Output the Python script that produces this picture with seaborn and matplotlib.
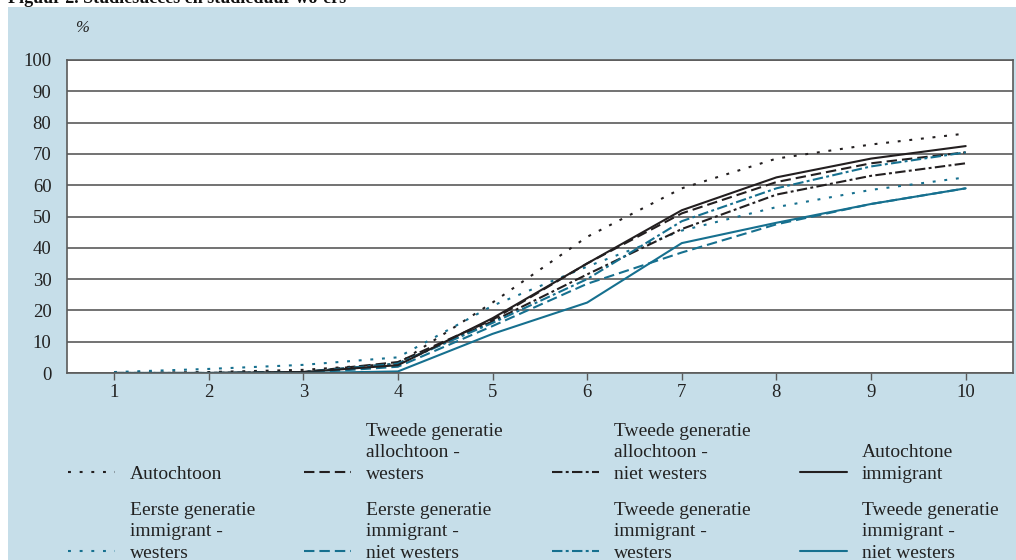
import matplotlib
matplotlib.use("Agg")
import matplotlib.pyplot as plt
from matplotlib.patches import Rectangle
import seaborn as sns
import pandas as pd

# -------------------------------
# Data
# -------------------------------
jaren = [1, 2, 3, 4, 5, 6, 7, 8, 9, 10]

autochtoon = [0, 0.3, 1, 3, 22.5, 43.5, 59, 68.5, 73, 76.5]
tg_allochtoon_westers = [0, 0, 0.3, 3.5, 17, 35, 51, 61, 67, 70.5]
tg_allochtoon_niet_westers = [0, 0, 0.3, 3, 16.5, 31.5, 46, 57, 63, 67]
autochtone_immigrant = [0, 0, 0.3, 2.5, 17.5, 35, 52, 62.5, 68.5, 72.5]
eg_immigrant_westers = [0.3, 1.3, 2.6, 5, 21.5, 34, 45.5, 53, 58.5, 62.5]
eg_immigrant_niet_westers = [0, 0, 0, 2, 15, 28.5, 38.5, 47.5, 54, 59]
tg_immigrant_westers = [0, 0, 0.3, 3, 16, 30, 48.5, 59, 66, 70.5]
tg_immigrant_niet_westers = [0, 0, 0, 0.5, 12.5, 22.5, 41.5, 48, 54, 59]

y_ticks = [0, 10, 20, 30, 40, 50, 60, 70, 80, 90, 100]

# -------------------------------
# Styles
# -------------------------------
BLACK = "#231f20"
BLUE = "#16708f"
BG = "#c6dee9"
GRID = "#5a5a5a"

dotted = (0, (1.4, 4.2))
dashed = (0, (5, 2.4))
dashdot = (0, (5, 1.6, 1.4, 1.6))
solid = "-"

# order is column-wise for the 4-column legend
series = [
    ("\n\nAutochtoon", autochtoon, BLACK, dotted),
    ("Eerste generatie\nimmigrant -\nwesters", eg_immigrant_westers, BLUE, dotted),
    ("Tweede generatie\nallochtoon -\nwesters", tg_allochtoon_westers, BLACK, dashed),
    ("Eerste generatie\nimmigrant -\nniet westers", eg_immigrant_niet_westers, BLUE, dashed),
    ("Tweede generatie\nallochtoon -\nniet westers", tg_allochtoon_niet_westers, BLACK, dashdot),
    ("Tweede generatie\nimmigrant -\nwesters", tg_immigrant_westers, BLUE, dashdot),
    ("\nAutochtone\nimmigrant", autochtone_immigrant, BLACK, solid),
    ("Tweede generatie\nimmigrant -\nniet westers", tg_immigrant_niet_westers, BLUE, solid),
]

sns.set_style("white")
plt.rcParams["font.family"] = ["Liberation Serif", "DejaVu Serif"]

fig = plt.figure(figsize=(10.16, 5.6), dpi=100)
fig.patch.set_facecolor("white")
fig.patches.append(Rectangle((8 / 1016, 0), 1, 1 - 7 / 560,
                             transform=fig.transFigure, facecolor=BG,
                             edgecolor="none", zorder=-10))

ax = fig.add_axes([66.7 / 1016, 1 - 373 / 560, (1013 - 66.7) / 1016, (373 - 60) / 560])
ax.set_facecolor("white")

for label, vals, color, ls in series:
    df = pd.DataFrame({"jaar": jaren, "pct": vals})
    sns.lineplot(data=df, x="jaar", y="pct", color=color, linestyle=ls,
                 linewidth=1.5, label=label, ax=ax, legend=False)

ax.set_xlim(0.5, 10.5)
ax.set_ylim(0, 100)
ax.set_xticks(jaren)
ax.set_yticks(y_ticks)
ax.set_xlabel("")
ax.set_ylabel("")
ax.yaxis.grid(True, color=GRID, linewidth=1.2)
ax.xaxis.grid(False)
ax.set_axisbelow(True)

for side in ["left", "bottom", "right", "top"]:
    ax.spines[side].set_visible(True)
    ax.spines[side].set_color(GRID)
    ax.spines[side].set_linewidth(1.2)

ax.tick_params(axis="x", bottom=True, length=5, width=1, color=GRID,
               labelsize=13.5, pad=3, labelcolor="#222222")
ax.tick_params(axis="y", left=False, length=0, labelsize=13.5, pad=11,
               labelcolor="#222222")

fig.text(75 / 1016, 1 - 28 / 560, "%", fontsize=12, style="italic",
         va="center", ha="left", color="#222222")

fig.text(8 / 1016, 1 - 3 / 560, "Figuur 2. Studiesucces en studieduur wo-ers",
         fontsize=13, fontweight="bold", va="baseline", ha="left", color="#111111")

handles, labels = ax.get_legend_handles_labels()
leg = fig.legend(handles, labels, loc="upper left",
                 bbox_to_anchor=(68 / 1016, 1 - 423 / 560), ncol=4,
                 frameon=False, fontsize=14, handlelength=2.4, handletextpad=0.77,
                 columnspacing=2.55, labelspacing=1.0, borderpad=0, borderaxespad=0,
                 labelcolor="#222222")
for t in leg.get_texts():
    t.set_linespacing(1.33)

# put the handle next to the last line of each label (as in the original)
for col in leg._legend_handle_box.get_children():
    for row in col.get_children():
        for child in row.get_children():
            if hasattr(child, "_multilinebaseline"):
                child._multilinebaseline = False

fig.savefig("out.png", dpi=100, facecolor=fig.get_facecolor())
